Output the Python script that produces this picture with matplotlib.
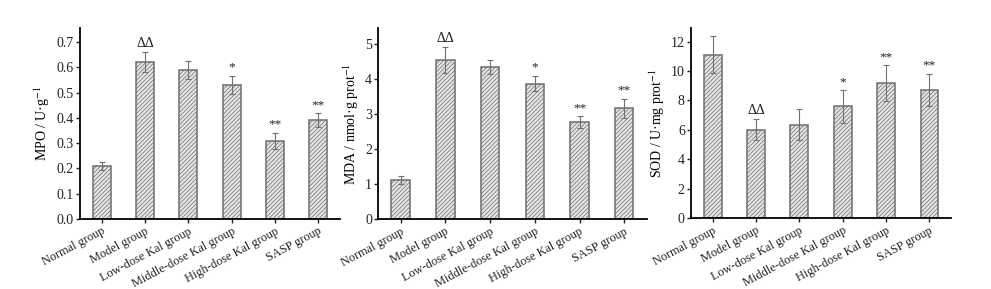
import matplotlib
matplotlib.use("Agg")
import matplotlib.pyplot as plt

plt.rcParams['font.family'] = ['Liberation Serif', 'DejaVu Serif']
plt.rcParams['mathtext.fontset'] = 'stix'
plt.rcParams['hatch.color'] = '#a8a8a8'
plt.rcParams['hatch.linewidth'] = 0.5

# dados
grupos = ["Normal group", "Model group", "Low-dose Kal group",
          "Middle-dose Kal group", "High-dose Kal group", "SASP group"]

mpo = [0.21, 0.62, 0.59, 0.53, 0.31, 0.39]
mpo_err = [0.015, 0.04, 0.035, 0.037, 0.032, 0.028]

mda = [1.13, 4.55, 4.36, 3.88, 2.78, 3.18]
mda_err = [0.12, 0.37, 0.2, 0.22, 0.16, 0.27]

sod = [11.1, 6.02, 6.35, 7.6, 9.18, 8.72]
sod_err = [1.25, 0.7, 1.06, 1.1, 1.2, 1.07]

sig_mpo = ["", "ΔΔ", "", "*", "**", "**"]
sig_mda = ["", "ΔΔ", "", "*", "**", "**"]
sig_sod = ["", "ΔΔ", "", "*", "**", "**"]

fig = plt.figure(figsize=(9.91, 2.89), dpi=100)

paineis = [
    ([0.0807, 0.242, 0.2624, 0.661], mpo, mpo_err, sig_mpo, "MPO / U·g$^{-1}$",
     (0, 0.755), [0.0, 0.1, 0.2, 0.3, 0.4, 0.5, 0.6, 0.7], "{:.1f}"),
    ([0.3817, 0.241, 0.2708, 0.661], mda, mda_err, sig_mda, "MDA / nmol·g prot$^{-1}$",
     (0, 5.46), [0, 1, 2, 3, 4, 5], "{:d}"),
    ([0.6973, 0.245, 0.2624, 0.657], sod, sod_err, sig_sod, "SOD / U·mg prot$^{-1}$",
     (0, 12.9), [0, 2, 4, 6, 8, 10, 12], "{:d}"),
]

for pos, vals, errs, sig, ylabel, ylim, yticks, fmt in paineis:
    ax = fig.add_axes(pos)
    x = range(len(grupos))
    ax.bar(x, vals, width=0.41, color='#e4e4e4', edgecolor='#6e6e6e',
           linewidth=1.1, hatch='////////', zorder=2)
    ax.errorbar(x, vals, yerr=errs, fmt='none', ecolor='#707070',
                elinewidth=0.8, capsize=2.5, capthick=0.8, zorder=3)
    span = ylim[1] - ylim[0]
    for xi, v, e, s in zip(x, vals, errs, sig):
        if s:
            ax.text(xi, v + e + span * 0.012, s, ha='center', va='bottom',
                    fontsize=10 if s == "ΔΔ" else 9.5, color='#222222')
    ax.set_xlim(-0.5, 5.5)
    ax.set_ylim(*ylim)
    ax.set_yticks(yticks)
    ax.set_yticklabels([fmt.format(t) for t in yticks], fontsize=10)
    ax.set_xticks(list(x))
    ax.set_xticklabels(grupos, rotation=28, ha='right', rotation_mode='anchor',
                       fontsize=8.8)
    ax.set_ylabel(ylabel, fontsize=10, labelpad=3)
    ax.spines['top'].set_visible(False)
    ax.spines['right'].set_visible(False)
    ax.spines['left'].set_linewidth(1.3)
    ax.spines['bottom'].set_linewidth(1.3)
    ax.tick_params(axis='both', direction='out', length=3,
                   width=1, colors='#222222', pad=1.5)

fig.savefig("out.png", dpi=100)
